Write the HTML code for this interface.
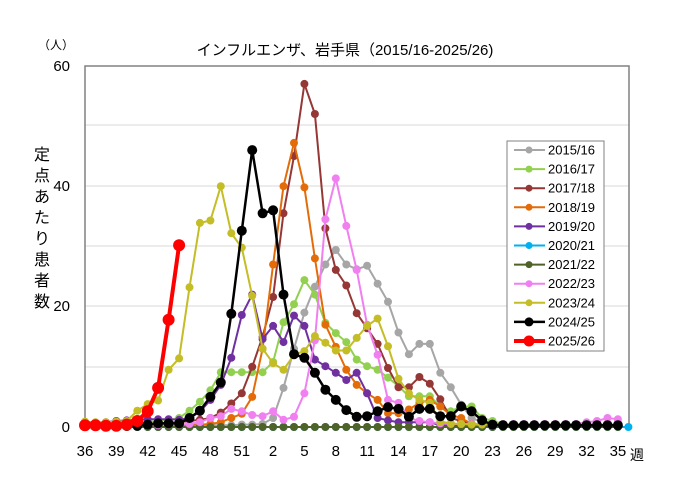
<!DOCTYPE html>
<html><head><meta charset="utf-8"><style>
body{margin:0;background:#fff;}
svg text{font-family:"Liberation Sans","Noto Sans CJK JP",sans-serif;}
</style></head><body>
<svg id="s" width="690" height="491" xmlns="http://www.w3.org/2000/svg">
<rect width="690" height="491" fill="#fff"/>
<g stroke="#d9d9d9" stroke-width="1">
<line x1="85" x2="629" y1="367" y2="367"/><line x1="85" x2="629" y1="306" y2="306"/>
<line x1="85" x2="629" y1="246" y2="246"/><line x1="85" x2="629" y1="186" y2="186"/>
<line x1="85" x2="629" y1="125" y2="125"/>
</g>
<rect x="85" y="66" width="544" height="361" fill="none" stroke="#808080" stroke-width="1.5"/>
<text x="345" y="55" font-size="15" text-anchor="middle">インフルエンザ、岩手県（2015/16-2025/26)</text>
<text x="38" y="49" font-size="12">（人）</text>
<g font-size="15" text-anchor="end" fill="#000">
<text x="70" y="432">0</text><text x="70" y="311">20</text><text x="70" y="191">40</text><text x="70" y="71">60</text>
</g>
<g font-size="16" text-anchor="middle">
<text x="42" y="160">定</text><text x="42" y="181">点</text><text x="42" y="202">あ</text><text x="42" y="223">た</text><text x="42" y="244">り</text><text x="42" y="265">患</text><text x="42" y="286">者</text><text x="42" y="307">数</text>
</g>
<g id="xl" font-size="15" text-anchor="middle"></g>
<text x="637" y="460" font-size="14" text-anchor="middle">週</text>
<g id="series"></g>
<rect x="507" y="141" width="97" height="210" fill="#fff" stroke="#808080" stroke-width="1"/>
<g id="leg" font-size="13"></g>
</svg>
<script>
var X=i=>85+i*10.45, Y=v=>427-v*6.02;
var xl=document.getElementById('xl'),h='';
for(var i=0;i<=51;i+=3){var w=(36+i-1)%52+1;h+='<text x="'+X(i)+'" y="456">'+w+'</text>';}
xl.innerHTML=h;
function fill(a,n,v){while(a.length<n)a.push(v);return a;}
var S=[
['2015/16','#a6a6a6',2,4,fill([0.3,0.3,0.3,0.3,0.3,0.3,0.3,0.3,0.3,0.3,0.3,0.3,0.3,0.3,0.3,0.4,0.4,0.5,1.5,6.5,13,19,23.3,27,29.4,27,26.2,26.8,23.8,20.8,15.7,12.1,13.8,13.8,9,6.6,3.7,1.5,0.8,0.5],52,0.3)],
['2016/17','#92d050',2,4,fill([0.5,0.5,0.5,0.6,0.6,0.7,0.8,1,1.2,1.5,2.7,4.2,6.1,9.1,9.1,9.1,9.1,9.1,10.8,17.4,20.4,24.4,22,17.3,15.6,14.1,11.2,10.1,9.5,8.2,6.8,5.1,5.1,5.1,3.4,2.6,3.4,3.4,1.5,1,0.5],52,0.3)],
['2017/18','#953735',2,4,fill([0.5,0.5,0.5,0.5,0.5,0.5,0.5,0.6,0.7,0.8,1,1.2,1.5,2.4,3.9,5.6,10,15,21.6,35.5,45,57,52,33,26.1,23.5,18.9,16.4,13.8,9.8,6.6,6.6,8.3,7.2,4.6,1.5,1,0.5],52,0.3)],
['2018/19','#e36c09',2,4,fill([0.3,0.3,0.3,0.3,0.3,0.3,0.3,0.3,0.3,0.3,0.3,0.4,0.5,0.8,1.5,2.2,5,13,27,40,47.2,39.8,28,17,13.3,9.5,7,5.6,4.5,2.3,2.3,2.9,4,4.5,3.4,2,1.5,0.5],52,0.3)],
['2019/20','#7030a0',2,4,fill([0.5,0.6,0.8,1,1.1,1.2,1.3,1.3,1.3,1.2,1.5,2.5,4.5,7,11.5,18.6,22,14.6,16.8,14.1,18.5,16.8,11.2,10.1,9,7.8,9,5.6,1.5,1.1,0.8,0.8,0.8,0.8,0.3],52,0.3)],
['2020/21','#00b0f0',2,4,fill([],53,0)],
['2021/22','#4f6228',2,4,fill([],52,0)],
['2022/23','#f07ff0',2,4,fill([0.3,0.3,0.3,0.3,0.3,0.3,0.3,0.3,0.4,0.4,0.5,0.8,1.5,1.8,3,2.6,2,1.8,2.6,1.2,1.7,5.6,14.4,34.5,41.3,33.4,26.1,17,12,4.5,4,1.5,1,0.8,0.6,0.5,0.5,0.5,0.5,0.5,0.5,0.5,0.5,0.5,0.5,0.5,0.5,0.5,0.8,1,1.5,1.3],52,0.5)],
['2023/24','#c4bd25',2,4,fill([0.9,0.8,0.8,0.9,1,2.7,3.8,4.4,9.5,11.4,23.2,33.9,34.3,40,32.2,29.8,21.8,13,10.6,9.5,12,12.6,15.1,14,12.7,12.7,14.8,16.8,18,13.4,8,5.6,4.5,4,0.9,0.6,0.5],52,0.4)],
['2024/25','#000000',2.5,5,fill([0.2,0.2,0.2,0.2,0.2,0.2,0.4,0.6,0.6,0.6,1.5,2.7,5,7.4,18.8,32.6,46,35.5,36,22,12.1,11.5,9,6.2,4.5,2.8,1.7,1.8,2.6,3.3,3,1.7,3,3,1.8,1.8,3.4,2.6,1.1,0.4],52,0.3)],
['2025/26','#ff0000',4,6,[0.3,0.3,0.2,0.2,0.4,1,2.6,6.5,17.8,30.2]]
];
var g='';
S.forEach(function(s){
 var pts=s[4].map((v,i)=>X(i).toFixed(1)+','+Y(v).toFixed(1)).join(' ');
 g+='<polyline points="'+pts+'" fill="none" stroke="'+s[1]+'" stroke-width="'+s[2]+'"/>';
 s[4].forEach((v,i)=>{g+='<circle cx="'+X(i).toFixed(1)+'" cy="'+Y(v).toFixed(1)+'" r="'+s[3]+'" fill="'+s[1]+'"/>';});
});
document.getElementById('series').innerHTML=g;
var l='';
S.forEach(function(s,k){var y=150+k*19.1;
 l+='<line x1="514" x2="545" y1="'+y+'" y2="'+y+'" stroke="'+s[1]+'" stroke-width="'+s[2]+'"/><circle cx="529" cy="'+y+'" r="'+(s[3]-0.5)+'" fill="'+s[1]+'"/><text x="548" y="'+(y+4.5)+'">'+s[0]+'</text>';});
document.getElementById('leg').innerHTML=l;
</script>
</body></html>
